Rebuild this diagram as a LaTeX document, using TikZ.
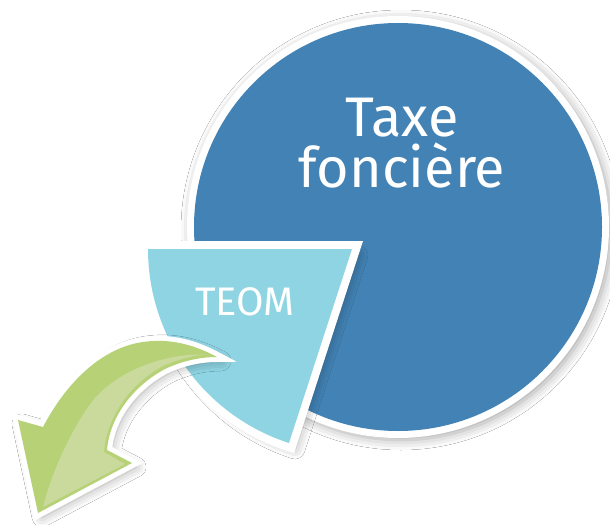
\documentclass[tikz,border=0pt]{standalone}
\usepackage{fontspec}
\setmainfont{Fira Sans}
\usetikzlibrary{shadows.blur}
\definecolor{pieblue}{RGB}{66,130,180}
\definecolor{slicecol}{RGB}{143,212,227}
\definecolor{arrowgreen}{RGB}{182,209,118}
\definecolor{arrowlight}{RGB}{201,218,156}
\begin{document}
\begin{tikzpicture}[x=1bp,y=-1bp,
  softshadow/.style={blur shadow={shadow xshift=#1,shadow yshift=-#1,shadow blur radius=10bp,shadow opacity=35}},
  rim/.style={preaction={draw=white,line width=#1,line join=miter,miter limit=10}},
  bigtext/.style={text=white,font=\fontsize{56}{51}\selectfont,inner sep=0pt,anchor=base},
  midtext/.style={text=white,font=\fontsize{40}{44}\selectfont,inner sep=0pt,anchor=base}]
\fill[white] (0,0) rectangle (610,525);
\useasboundingbox (0,0) rectangle (610,525);
% big circle
\path[softshadow=3bp] (398,227) circle[radius=210];
\path[rim=14bp, fill=pieblue] (398,227) circle[radius=204];
% slice
\path[softshadow=6bp, rim=16bp, fill=slicecol]
  (352,249) -- ++(180:204) arc[start angle=180, end angle=108, radius=204] -- cycle;
% arrow
\path[softshadow=4bp, rim=10bp, fill=arrowgreen]
  (217,357) .. controls (195,345) and (170,338) .. (143,342)
  .. controls (100,348) and (65,385) .. (43,427)
  -- (18,420) -- (38,513) -- (132,463) -- (107,450)
  .. controls (110,415) and (135,385) .. (165,369)
  .. controls (182,361) and (200,357) .. cycle;
\fill[arrowlight]
  (210,355) .. controls (175,352) and (125,365) .. (95,398)
  .. controls (75,422) and (52,470) .. (43,507)
  -- (125,464) -- (104,452)
  .. controls (107,414) and (133,382) .. (163,366)
  .. controls (181,358) and (199,354) .. cycle;
% texts
\node[bigtext] (taxe) at (402,137) {Taxe};
\node[bigtext] (fonciere) at (402,188) {foncière};
\node[midtext] (teom) at (245,315) {TEOM};
\end{tikzpicture}
\end{document}
